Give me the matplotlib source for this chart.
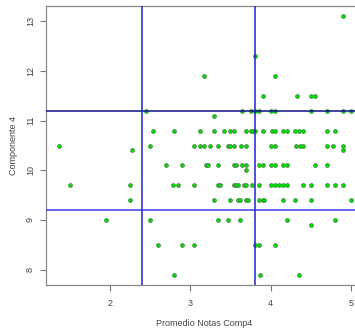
import matplotlib
matplotlib.use("Agg")
import matplotlib.pyplot as plt

plt.rcParams['font.family'] = ['Liberation Sans', 'DejaVu Sans']

# Data, grouped by Componente 4 level
rows_y = [13.1, 12.3, 11.9, 11.5, 11.2, 11.1, 10.8, 10.5, 10.4, 10.1, 10.0, 9.7, 9.4, 9.0, 8.9, 8.5, 7.9]
x_13_1 = [4.90]
x_12_3 = [3.80]
x_11_9 = [3.17, 4.05]
x_11_5 = [3.90, 4.33, 4.50, 4.55]
x_11_2 = [2.45, 3.65, 3.75, 3.80, 3.85, 4.00, 4.05, 4.50, 4.70, 4.90, 5.00]
x_11_1 = [3.30]
x_10_8 = [2.53, 2.80, 3.12, 3.30, 3.42, 3.50, 3.55, 3.70, 3.75, 3.78, 3.80, 3.90,
          4.02, 4.05, 4.15, 4.20, 4.30, 4.35, 4.40, 4.70, 4.80]
x_10_5 = [1.36, 2.50, 3.05, 3.12, 3.17, 3.25, 3.35, 3.47, 3.50, 3.55, 3.63, 3.70,
          4.00, 4.05, 4.32, 4.37, 4.40, 4.70, 4.78, 4.90]
x_10_4 = [2.28, 4.90]
x_10_1 = [2.70, 2.90, 3.20, 3.22, 3.35, 3.55, 3.57, 3.65, 3.70, 3.85, 3.90, 4.00,
          4.05, 4.15, 4.20, 4.55, 4.70]
x_10_0 = [3.70]
x_9_7 = [1.50, 2.25, 2.78, 2.85, 3.05, 3.35, 3.37, 3.55, 3.57, 3.60, 3.67, 3.70,
         3.77, 3.85, 4.00, 4.05, 4.10, 4.15, 4.20, 4.40, 4.50, 4.70, 4.80, 4.90]
x_9_4 = [2.25, 3.30, 3.50, 3.60, 3.62, 3.70, 3.72, 3.85, 3.90, 3.92, 4.15, 4.30, 4.50, 5.00]
x_9_0 = [1.95, 2.50, 3.35, 3.47, 3.62, 4.20, 4.80]
x_8_9 = [4.50]
x_8_5 = [2.60, 2.90, 3.05, 3.80, 3.85, 4.05]
x_7_9 = [2.80, 3.87, 4.35]

rows_x = [x_13_1, x_12_3, x_11_9, x_11_5, x_11_2, x_11_1, x_10_8, x_10_5, x_10_4,
          x_10_1, x_10_0, x_9_7, x_9_4, x_9_0, x_8_9, x_8_5, x_7_9]

h_lines = [11.2, 9.2]
v_lines = [2.4, 3.8]
x_ticks = [2, 3, 4, 5]
y_ticks = [8, 9, 10, 11, 12, 13]

notas = [x for xs in rows_x for x in xs]
comp4 = [y for y, xs in zip(rows_y, rows_x) for _ in xs]

W, H = 355, 331
fig = plt.figure(figsize=(W / 100, H / 100), dpi=100)
left_px, right_px, top_px, bot_px = 46, 362.6, 6, 285
ax = fig.add_axes([left_px / W, 1 - bot_px / H, (right_px - left_px) / W, (bot_px - top_px) / H])

ax.scatter(notas, comp4, s=8, facecolor='#00dd00', edgecolor='#4f7f4f', linewidths=0.5, zorder=2)

ax.axhline(h_lines[0], color='#10108a', lw=1.1, zorder=3)
ax.axhline(h_lines[1], color='#3a3aee', lw=1.1, zorder=3)
for v in v_lines:
    ax.axvline(v, color='#2323c8', lw=1.1, zorder=3)

ax.set_xlim(1.203, 5.146)
ax.set_ylim(7.69, 13.31)
ax.set_xticks(x_ticks)
ax.set_yticks(y_ticks)
ax.tick_params(axis='both', direction='out', length=4, width=0.8, color='#777777',
               labelsize=6.5, labelcolor='#444444')
ax.tick_params(axis='x', pad=6)
ax.tick_params(axis='y', pad=4)
for lab in ax.get_yticklabels():
    lab.set_rotation(90)
    lab.set_va('center')

for sp in ax.spines.values():
    sp.set_color('#888888')
    sp.set_linewidth(0.9)

ax.set_xlabel('Promedio Notas Comp4', fontsize=6.5, color='#444444')
ax.set_ylabel('Componente 4', fontsize=6.5, color='#444444')
ax.xaxis.set_label_coords(0.5, -38 / 279)
ax.xaxis.label.set_va('center')
ax.yaxis.set_label_coords(-32 / 316.6, 0.5)
ax.yaxis.label.set_va('center')

fig.savefig('out.png', dpi=100)
